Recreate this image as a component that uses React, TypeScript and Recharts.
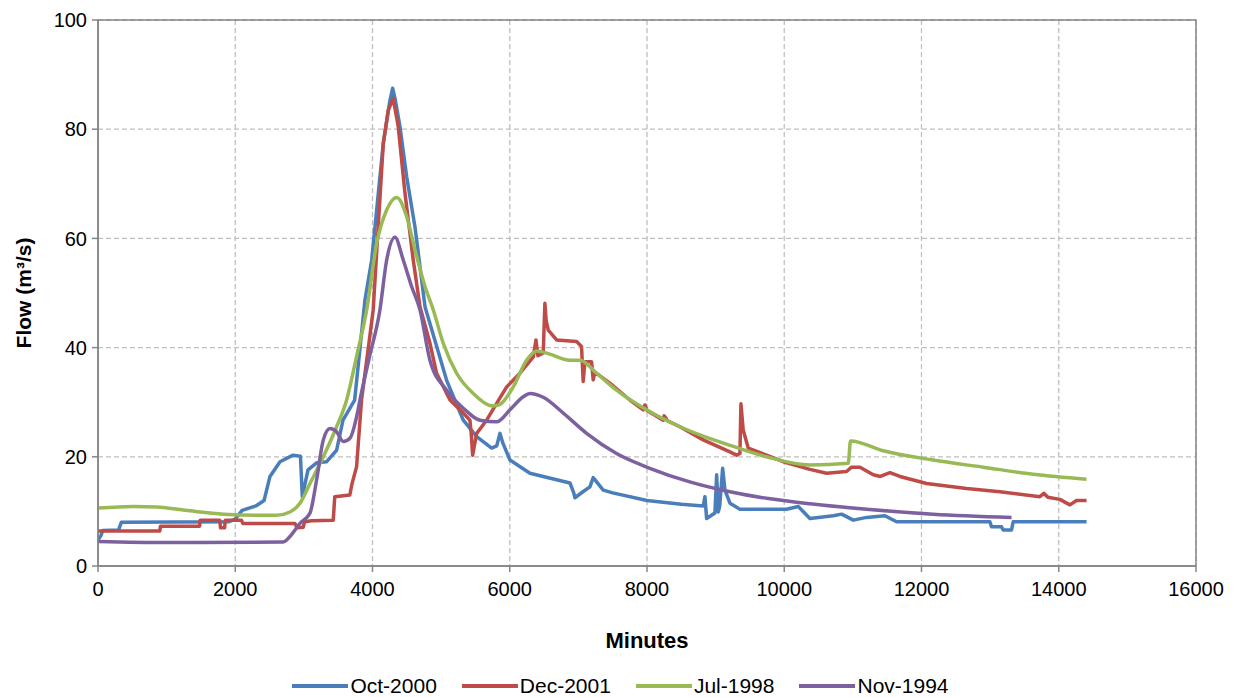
import React from "react";
import {
  LineChart,
  Line,
  XAxis,
  YAxis,
  CartesianGrid,
  Legend,
  ReferenceArea,
} from "recharts";

// Flow hydrographs for four storm events (minutes from start, flow in m³/s)
const oct2000Minutes = [0, 40, 70, 300, 340, 1900, 2000, 2100, 2300, 2420, 2506, 2652, 2842, 2950, 2977, 3060, 3186, 3332, 3477, 3570, 3740, 3890, 3988, 4085, 4157, 4250, 4293, 4330, 4400, 4498, 4619, 4765, 4837, 5080, 5323, 5518, 5736, 5810, 5857, 5900, 6003, 6294, 6683, 6877, 6930, 6950, 7066, 7168, 7216, 7260, 7362, 7500, 8000, 8500, 8820, 8844, 8869, 8990, 9015, 9039, 9060, 9102, 9136, 9209, 9354, 10034, 10204, 10374, 10714, 10836, 11006, 11200, 11467, 11637, 12997, 13020, 13166, 13190, 13312, 13336, 14405];
const oct2000Flow = [4.8, 5.5, 6.5, 6.6, 8.0, 8.1, 8.6, 10.2, 11, 12, 16.4, 19.1, 20.3, 20.1, 12.7, 17.6, 18.9, 19.1, 21.2, 26.7, 30.4, 48.7, 56, 68.3, 77.4, 85, 87.5, 85.5, 80.5, 71.3, 62.1, 47.5, 44.4, 34, 26.7, 23.7, 21.6, 22, 24.3, 22.5, 19.4, 17, 15.8, 15.2, 13.5, 12.5, 13.6, 14.5, 16.2, 15.5, 13.9, 13.4, 12, 11.3, 11, 12.7, 8.7, 9.7, 16.7, 9.9, 11, 17.9, 13.9, 11.5, 10.4, 10.4, 10.9, 8.7, 9.2, 9.5, 8.4, 8.9, 9.2, 8.1, 8.1, 7.2, 7.2, 6.6, 6.6, 8.1, 8.1];

const dec2001Minutes = [0, 900, 910, 1480, 1490, 1775, 1785, 1845, 1855, 2090, 2110, 2870, 2900, 2990, 3010, 3113, 3428, 3450, 3670, 3700, 3768, 3840, 3940, 4010, 4083, 4157, 4230, 4302, 4375, 4473, 4594, 4692, 4837, 4934, 5129, 5323, 5420, 5440, 5459, 5518, 5663, 5809, 5955, 6149, 6343, 6382, 6410, 6488, 6512, 6530, 6561, 6683, 6974, 7046, 7070, 7095, 7192, 7216, 7240, 7459, 7750, 7945, 7970, 8000, 8236, 8250, 8300, 8479, 8819, 9208, 9305, 9354, 9369, 9402, 9475, 9985, 10374, 10617, 10908, 10981, 11103, 11297, 11400, 11540, 11686, 12074, 12657, 13142, 13724, 13783, 13841, 14016, 14162, 14259, 14405];
const dec2001Flow = [6.4, 6.4, 7.3, 7.3, 8.4, 8.4, 7.0, 7.0, 8.4, 8.4, 7.8, 7.8, 7.0, 7.1, 8.1, 8.3, 8.4, 12.7, 13, 15, 18.2, 30.4, 40, 46.9, 62.1, 77.4, 83.5, 85.6, 80.5, 68.3, 56, 47.5, 40.8, 35.3, 30.4, 28, 26.7, 24, 20.3, 24.3, 26.7, 29.8, 32.8, 35.3, 38.3, 41.4, 38.5, 39, 48.1, 45, 43.2, 41.4, 41.1, 40.2, 33.8, 37.4, 37.4, 34.1, 35.5, 33.5, 30.4, 28.6, 29.5, 28.5, 26.7, 27.5, 26.6, 25.5, 23.1, 20.9, 20.3, 20.6, 29.7, 24.9, 21.6, 19.1, 17.7, 17, 17.3, 18.1, 18.1, 16.7, 16.4, 17.1, 16.4, 15.1, 14.2, 13.6, 12.7, 13.3, 12.6, 12.2, 11.2, 12, 12];

const jul1998Minutes = [0, 515, 855, 1340, 1826, 2312, 2603, 2797, 2943, 3089, 3283, 3477, 3623, 3770, 3915, 4061, 4206, 4352, 4498, 4619, 4765, 4886, 5031, 5226, 5469, 5760, 5857, 6051, 6245, 6391, 6585, 6877, 7023, 7265, 7556, 7993, 8479, 8771, 9256, 9742, 10374, 10932, 10966, 11442, 12170, 12899, 13627, 14405];
const jul1998Flow = [10.6, 10.9, 10.8, 10.1, 9.5, 9.3, 9.3, 9.9, 11.5, 15.1, 20, 25.5, 30.4, 38.5, 46.9, 59.1, 65.2, 67.5, 64, 57.9, 51.2, 46.9, 40.8, 35.3, 31.6, 29.3, 29.6, 32.8, 37.7, 39.4, 38.8, 37.7, 37.7, 35.3, 32.2, 28.6, 25.5, 24, 21.9, 20, 18.5, 18.8, 22.9, 21.1, 19.4, 18.1, 16.8, 15.9];

const nov1994Minutes = [0, 1000, 2700, 2797, 2943, 3089, 3186, 3283, 3380, 3477, 3574, 3671, 3768, 3817, 3950, 4108, 4206, 4327, 4449, 4570, 4692, 4837, 5080, 5323, 5566, 5809, 6003, 6197, 6294, 6488, 6780, 7120, 7556, 8041, 8624, 9208, 9742, 10374, 11200, 12170, 13312];
const nov1994Flow = [4.5, 4.3, 4.4, 5.4, 7.8, 9.7, 15.8, 23.1, 25.2, 24.6, 22.8, 23.4, 27.3, 30.4, 38, 46.9, 56, 60.2, 56, 51.2, 46.9, 37.7, 32.2, 28.9, 26.7, 26.4, 28.6, 31, 31.6, 30.9, 28, 24.3, 20.6, 17.9, 15.4, 13.6, 12.4, 11.4, 10.4, 9.5, 8.9];

const xTicks = [0, 2000, 4000, 6000, 8000, 10000, 12000, 14000, 16000];
const yTicks = [0, 20, 40, 60, 80, 100];

const toPoints = (minutes: number[], flow: number[]) =>
  minutes.map((m, i) => ({ minute: m, flow: flow[i] }));

// Gauged events have abrupt steps and stay piecewise linear; the older
// records are smoother and are drawn with a monotone curve.
const series = [
  { name: "Oct-2000", color: "#4A7EBB", curve: "linear", data: toPoints(oct2000Minutes, oct2000Flow) },
  { name: "Dec-2001", color: "#BE4B48", curve: "linear", data: toPoints(dec2001Minutes, dec2001Flow) },
  { name: "Jul-1998", color: "#98B954", curve: "monotone", data: toPoints(jul1998Minutes, jul1998Flow) },
  { name: "Nov-1994", color: "#7D60A0", curve: "monotone", data: toPoints(nov1994Minutes, nov1994Flow) },
] as const;

const FONT = "'Liberation Sans', Arial, sans-serif";

const LegendContent = () => (
  <div
    style={{
      width: 1241,
      marginTop: 9,
      display: "flex",
      justifyContent: "center",
      alignItems: "center",
      gap: 25,
      fontFamily: FONT,
      fontSize: 21,
      lineHeight: "22px",
      color: "#000",
    }}
  >
    {series.map((s) => (
      <div key={s.name} style={{ display: "flex", alignItems: "center" }}>
        <svg width={56} height={10} style={{ marginRight: 2 }}>
          <line x1={0} y1={5} x2={56} y2={5} stroke={s.color} strokeWidth={4} />
        </svg>
        <span>{s.name}</span>
      </div>
    ))}
  </div>
);

export default function App() {
  return (
    <div style={{ position: "absolute", left: 0, top: 0, background: "#fff" }}>
      <LineChart
        width={1241}
        height={697}
        margin={{ top: 20, right: 45, bottom: 0, left: 0 }}
      >
        <CartesianGrid stroke="#BFBFBF" strokeDasharray="5 3" strokeWidth={1.3} />
        <XAxis
          type="number"
          dataKey="minute"
          domain={[0, 16000]}
          ticks={xTicks}
          allowDataOverflow
          stroke="#868686"
          strokeWidth={1.5}
          tickSize={6}
          tickMargin={10}
          tick={{ fill: "#000", fontSize: 20, fontFamily: FONT }}
          height={100}
          label={{
            value: "Minutes",
            position: "insideBottom",
            offset: 18,
            style: { fill: "#000", fontSize: 22, fontWeight: "bold", fontFamily: FONT },
          }}
        />
        <YAxis
          type="number"
          domain={[0, 100]}
          ticks={yTicks}
          stroke="#868686"
          strokeWidth={1.5}
          tickSize={6}
          tickMargin={5}
          width={98}
          tick={{ fill: "#000", fontSize: 20, fontFamily: FONT }}
          label={{
            value: "Flow (m³/s)",
            angle: -90,
            position: "insideLeft",
            offset: 24,
            style: { fill: "#000", fontSize: 21, fontWeight: "bold", fontFamily: FONT, textAnchor: "middle" },
          }}
        />
        <ReferenceArea
          x1={0}
          x2={16000}
          y1={0}
          y2={100}
          fill="none"
          stroke="#868686"
          strokeWidth={1.5}
          ifOverflow="visible"
        />
        {series.map((s) => (
          <Line
            key={s.name}
            data={s.data as any}
            dataKey="flow"
            name={s.name}
            type={s.curve}
            stroke={s.color}
            strokeWidth={3.5}
            strokeLinejoin="round"
            dot={false}
            activeDot={false}
            isAnimationActive={false}
          />
        ))}
        <Legend verticalAlign="bottom" height={31} content={<LegendContent />} />
      </LineChart>
    </div>
  );
}
